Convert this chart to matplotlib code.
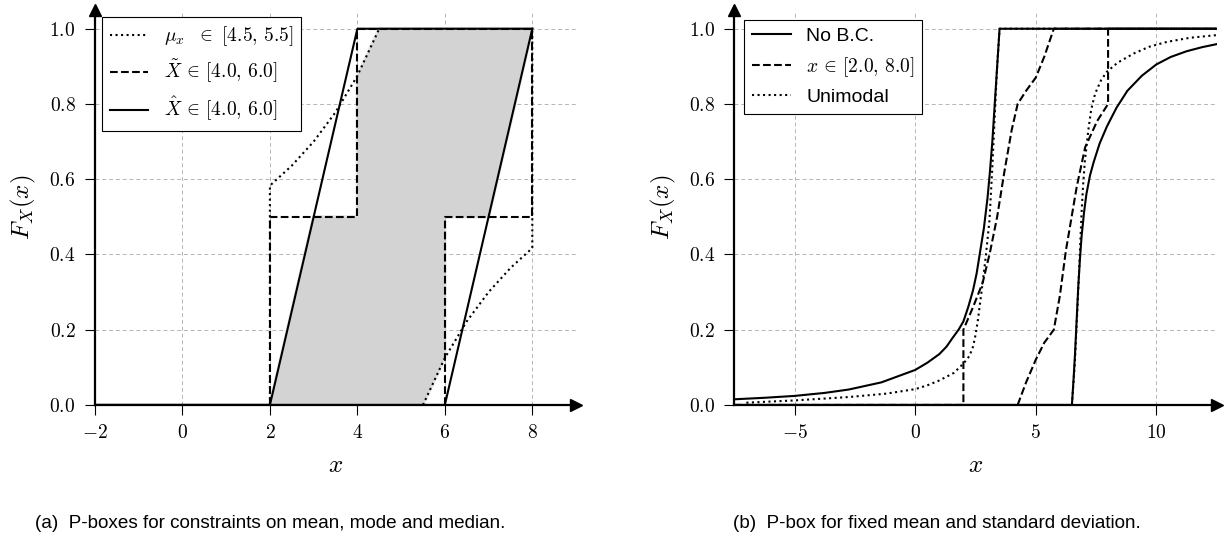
import numpy as np
import matplotlib
matplotlib.use("Agg")
import matplotlib.pyplot as plt

plt.rcParams['font.family'] = ['Liberation Sans', 'DejaVu Sans']
plt.rcParams['mathtext.fontset'] = 'cm'

# (a) bounds from mean / mode / median constraints
solid_up_x = [-2, 2, 4, 8]
solid_up_y = [0, 0, 1, 1]
solid_lo_x = [-2, 6, 8]
solid_lo_y = [0, 0, 1]

median_up_x = [2, 2, 4, 4, 8]
median_up_y = [0, 0.5, 0.5, 1, 1]
median_lo_x = [6, 6, 8, 8]
median_lo_y = [0, 0.5, 0.5, 1]

mean_up_x = [2, 2, 2.5, 3, 3.5, 4, 4.5]
mean_up_y = [0, 0.583, 0.636, 0.70, 0.778, 0.875, 1.0]
mean_lo_x = [5.5, 6, 6.5, 7, 7.5, 8, 8]
mean_lo_y = [0, 0.125, 0.222, 0.30, 0.364, 0.417, 1.0]

# intersection of all bounds (shaded)
shade_up_x = [2, 3, 4, 4, 4.5, 8]
shade_up_y = [0, 0.5, 0.5, 0.875, 1, 1]
shade_lo_x = [2, 5.5, 6, 6, 7, 8]
shade_lo_y = [0, 0, 0.125, 0.5, 0.5, 1]

# (b) bounds from fixed mean and standard deviation
nobc_up_x = [-7.5, -6.25, -5, -3.75, -2.75, -1.4, 0, 0.5, 1.0, 1.3, 1.55,
             1.8, 2.0, 2.2, 2.4, 2.55, 2.7, 2.85, 3.0, 3.1, 3.2, 3.3, 3.4,
             3.5, 12.5]
nobc_up_y = [0.015, 0.019, 0.024, 0.032, 0.041, 0.06, 0.093, 0.112, 0.135,
             0.155, 0.178, 0.2, 0.222, 0.26, 0.305, 0.35, 0.41, 0.47, 0.55,
             0.62, 0.70, 0.80, 0.90, 1.0, 1.0]
nobc_lo_x = [-7.5, 6.5, 6.57, 6.63, 6.7, 6.76, 6.83, 6.9, 7.0, 7.1, 7.25,
             7.4, 7.65, 7.95, 8.35, 8.8, 9.4, 10.0, 10.6, 11.25, 11.9, 12.5]
nobc_lo_y = [0, 0, 0.07, 0.137, 0.23, 0.31, 0.385, 0.447, 0.51, 0.56, 0.61,
             0.645, 0.695, 0.74, 0.79, 0.835, 0.875, 0.905, 0.925, 0.94,
             0.951, 0.959]

bnd_up_x = [-7.5, 2, 2, 2.4, 2.8, 3.1, 3.4, 3.7, 4.0, 4.25, 4.6, 5.0, 5.35,
            5.75, 12.5]
bnd_up_y = [0, 0, 0.2, 0.26, 0.325, 0.405, 0.5, 0.62, 0.73, 0.8, 0.835, 0.87,
            0.925, 1.0, 1.0]
bnd_lo_x = [4.25, 4.6, 5.0, 5.35, 5.75, 6.0, 6.25, 6.7, 7.05, 7.55, 8.0, 8.0,
            12.5]
bnd_lo_y = [0, 0.06, 0.12, 0.165, 0.2, 0.29, 0.41, 0.58, 0.685, 0.755, 0.8,
            1.0, 1.0]

uni_up_x = [-7.0, -5.0, -2.75, -1.2, 0, 0.5, 1.0, 1.6, 2.0, 2.25, 2.4, 2.5,
            2.6, 2.75, 2.92, 3.08, 3.19, 3.29, 3.39, 3.5, 12.5]
uni_up_y = [0.006, 0.012, 0.021, 0.03, 0.042, 0.052, 0.065, 0.085, 0.11,
            0.13, 0.155, 0.185, 0.225, 0.3, 0.39, 0.49, 0.62, 0.755, 0.89,
            1.0, 1.0]
uni_lo_x = [6.5, 6.62, 6.72, 6.83, 6.9, 6.96, 7.04, 7.18, 7.3, 7.46, 7.7,
            7.94, 8.4, 9.06, 9.7, 10.44, 11.4, 12.5]
uni_lo_y = [0, 0.11, 0.245, 0.403, 0.51, 0.58, 0.65, 0.73, 0.785, 0.827,
            0.862, 0.885, 0.91, 0.934, 0.952, 0.965, 0.976, 0.983]

xticks_a = [-2, 0, 2, 4, 6, 8]
xticks_b = [-5, 0, 5, 10]
yticks = [0.0, 0.2, 0.4, 0.6, 0.8, 1.0]


def style_axes(ax, xlim, xticks):
    ax.set_xlim(*xlim)
    ax.set_ylim(0, 1.05)
    for s in ['top', 'right']:
        ax.spines[s].set_visible(False)
    for s in ['left', 'bottom']:
        ax.spines[s].set_linewidth(1.6)
    ax.set_xticks(xticks)
    ax.set_xticklabels(['$%g$' % t for t in xticks])
    ax.set_yticks(yticks)
    ax.set_yticklabels(['$%.1f$' % t for t in yticks])
    ax.tick_params(direction='out', length=7, width=0.8, labelsize=14, pad=7)
    ax.grid(True, linestyle=(0, (4, 3)), linewidth=0.7, color='#b5b5b5')
    ax.set_axisbelow(True)
    # arrow heads at the ends of the axes
    ax.plot(1, 0, '>k', ms=8, transform=ax.transAxes, clip_on=False)
    ax.plot(0, 1, '^k', ms=8, transform=ax.transAxes, clip_on=False)
    ax.set_xlabel('$x$', fontsize=18, labelpad=8)
    ax.set_ylabel('$F_X(x)$', fontsize=18, labelpad=8)


fig = plt.figure(figsize=(12.29, 5.45), dpi=100)
ax1 = fig.add_axes([0.0773, 0.257, 0.3914, 0.7248])
ax2 = fig.add_axes([0.5975, 0.257, 0.3924, 0.7248])

# panel (a)
poly_x = shade_up_x + shade_lo_x[::-1]
poly_y = shade_up_y + shade_lo_y[::-1]
ax1.fill(poly_x, poly_y, color='#d3d3d3', lw=0, zorder=1)
ax1.fill(poly_x, poly_y, facecolor='none', edgecolor='#d3d3d3', lw=2.5,
         alpha=0.5, zorder=1)

ax1.plot(mean_up_x, mean_up_y, 'k:', lw=1.5,
         label=r'$\mu_x\ \ \in\ [4.5,\,5.5]$')
ax1.plot(mean_lo_x, mean_lo_y, 'k:', lw=1.5)
ax1.plot(median_up_x, median_up_y, 'k--', lw=1.5,
         label=r'$\tilde{X}\,\in\,[4.0,\,6.0]$')
ax1.plot(median_lo_x, median_lo_y, 'k--', lw=1.5)
ax1.plot(solid_up_x, solid_up_y, 'k-', lw=1.5,
         label=r'$\hat{X}\,\in\,[4.0,\,6.0]$')
ax1.plot(solid_lo_x, solid_lo_y, 'k-', lw=1.5)
style_axes(ax1, (-2, 9), xticks_a)
leg = ax1.legend(loc='upper left', fontsize=14, fancybox=False,
                 edgecolor='black', framealpha=1, borderaxespad=0.35)
leg.get_frame().set_linewidth(0.8)

# panel (b)
ax2.plot(nobc_up_x, nobc_up_y, 'k-', lw=1.5, label='No B.C.')
ax2.plot(nobc_lo_x, nobc_lo_y, 'k-', lw=1.5)
ax2.plot(bnd_up_x, bnd_up_y, 'k--', lw=1.5, label=r'$x\,\in\,[2.0,\,8.0]$')
ax2.plot(bnd_lo_x, bnd_lo_y, 'k--', lw=1.5)
ax2.plot(uni_up_x, uni_up_y, 'k:', lw=1.5, label='Unimodal')
ax2.plot(uni_lo_x, uni_lo_y, 'k:', lw=1.5)
style_axes(ax2, (-7.5, 12.5), xticks_b)
leg = ax2.legend(loc='upper left', fontsize=14, fancybox=False,
                 edgecolor='black', framealpha=1)
leg.get_frame().set_linewidth(0.8)

fig.text(0.22, 0.04, '(a)  P-boxes for constraints on mean, mode and median.',
         ha='center', va='center', fontsize=13.6)
fig.text(0.762, 0.04, '(b)  P-box for fixed mean and standard deviation.',
         ha='center', va='center', fontsize=13.6)

plt.savefig('out.png', dpi=100)
